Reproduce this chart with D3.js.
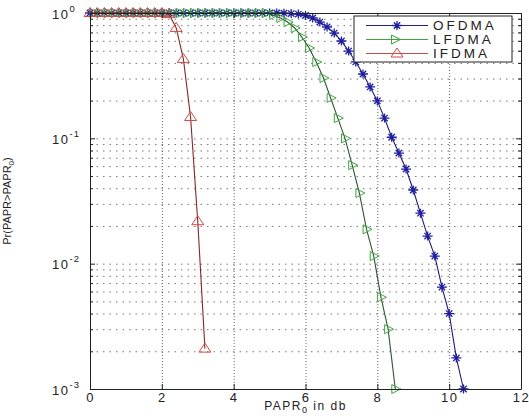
<!DOCTYPE html>
<html>
<head>
<meta charset="utf-8">
<script src="https://cdn.jsdelivr.net/npm/d3@7"></script>
<style>
  body { margin: 0; background: #fff; }
  svg { display: block; font-family: "Liberation Sans", Arial, sans-serif; }
  .tick text { fill: #222; }
</style>
</head>
<body>
<script>
// PAPR CCDF data
const ofdmaX = [0, 0.2, 0.4, 0.6, 0.8, 1.0, 1.2, 1.4, 1.6, 1.8, 2.0, 2.2, 2.4, 2.6, 2.8, 3.0, 3.2, 3.4, 3.6, 3.8,
  4.0, 4.2, 4.4, 4.6, 4.8, 5.0, 5.2, 5.4, 5.6, 5.8, 6.0, 6.2, 6.4, 6.6, 6.8, 7.0, 7.2, 7.4, 7.6, 7.8,
  8.0, 8.2, 8.4, 8.6, 8.8, 9.0, 9.2, 9.4, 9.6, 9.8, 10.0, 10.2, 10.4]
const ofdmaP = [1, 1, 1, 1, 1, 1, 1, 1, 1, 1, 1, 1, 1, 1, 1, 1, 1, 1, 1, 1,
  1, 1, 1, 1, 1, 1, 1, 0.997, 0.99, 0.98, 0.955, 0.912, 0.847, 0.773, 0.692, 0.598, 0.497, 0.407, 0.326, 0.257,
  0.199, 0.145, 0.102, 0.0763, 0.0569, 0.0387, 0.0253, 0.0166, 0.0115, 0.0065, 0.0040, 0.00177, 0.001]

const lfdmaX = [0.1, 0.3, 0.5, 0.7, 0.9, 1.1, 1.3, 1.5, 1.7, 1.9, 2.1, 2.3, 2.5, 2.7, 2.9, 3.1, 3.3, 3.5, 3.7, 3.9,
  4.1, 4.3, 4.5, 4.7, 4.9, 5.1, 5.3, 5.5, 5.7, 5.9, 6.1, 6.3, 6.5, 6.7, 6.9, 7.1, 7.3, 7.5, 7.7, 7.9,
  8.1, 8.3, 8.5]
const lfdmaP = [1, 1, 1, 1, 1, 1, 1, 1, 1, 1, 1, 1, 1, 1, 1, 1, 1, 1, 1, 1,
  1, 1, 1, 1, 1, 0.964, 0.912, 0.847, 0.759, 0.643, 0.526, 0.406, 0.303, 0.21, 0.145, 0.1, 0.0611, 0.0366, 0.0188, 0.0115,
  0.0054, 0.003, 0.001]

const ifdmaX = [0, 0.2, 0.4, 0.6, 0.8, 1.0, 1.2, 1.4, 1.6, 1.8, 2.0, 2.2, 2.4, 2.6, 2.8, 3.0, 3.2]
const ifdmaP = [1, 1, 1, 1, 1, 1, 1, 1, 1, 1, 1, 0.98, 0.76, 0.43, 0.148, 0.0218, 0.0021]

const seriesNames = ['OFDMA', 'LFDMA', 'IFDMA']
const xTicks = [0, 2, 4, 6, 8, 10, 12]
const yDecades = [1e-3, 1e-2, 1e-1, 1]
const yExponents = ['-3', '-2', '-1', '0']

window.addEventListener('load', () => {
  const W = 529, H = 416
  const margin = {top: 13, right: 8, bottom: 27, left: 90}
  const plotW = W - margin.left - margin.right
  const plotH = H - margin.top - margin.bottom

  const svg = d3.select('body').append('svg')
    .attr('width', W)
    .attr('height', H)
  svg.append('rect').attr('width', W).attr('height', H).attr('fill', '#fff')

  const x = d3.scaleLinear().domain([0, 12]).range([margin.left, margin.left + plotW])
  const y = d3.scaleLog().domain([1e-3, 1]).range([margin.top + plotH, margin.top])

  // minor log positions 2..9 x 10^k
  const yMinor = []
  yDecades.slice(0, 3).forEach(d => { for (let m = 2; m <= 9; m++) yMinor.push(d * m) })

  // dotted grid
  const grid = svg.append('g').attr('stroke', '#333').attr('stroke-width', 1)
  grid.append('g')
    .attr('transform', `translate(0,${margin.top + plotH})`)
    .call(d3.axisBottom(x).tickValues([2, 4, 6, 8, 10]).tickSize(-plotH).tickFormat(''))
    .call(g => g.select('.domain').remove())
    .selectAll('line').attr('stroke', '#666').attr('stroke-dasharray', '1,2')
  grid.append('g')
    .attr('transform', `translate(${margin.left},0)`)
    .call(d3.axisLeft(y).tickValues(yMinor.concat([1e-2, 1e-1])).tickSize(-plotW).tickFormat(''))
    .call(g => g.select('.domain').remove())
    .selectAll('line').attr('stroke', '#777').attr('stroke-dasharray', '1.5,5')

  // data lines + markers
  const series = [
    {name: seriesNames[0], xs: ofdmaX, ps: ofdmaP, line: '#1c1c7a', mark: '#1f1fa0', shape: 'star'},
    {name: seriesNames[1], xs: lfdmaX, ps: lfdmaP, line: '#2f552f', mark: '#3fa63f', shape: 'right'},
    {name: seriesNames[2], xs: ifdmaX, ps: ifdmaP, line: '#842828', mark: '#cf4a4a', shape: 'up'}
  ]

  function drawMarker(g, shape, color) {
    if (shape === 'star') {
      g.append('path')
        .attr('d', 'M-5,0H5M0,-4.5V4.5M-3.2,-3.2L3.2,3.2M-3.2,3.2L3.2,-3.2')
        .attr('stroke', color).attr('stroke-width', 1.3).attr('fill', 'none')
    } else if (shape === 'right') {
      g.append('path')
        .attr('d', 'M-3.5,-4.5L-3.5,4.5L5.5,0Z')
        .attr('stroke', color).attr('stroke-width', 1).attr('fill', 'none')
    } else {
      g.append('path')
        .attr('d', 'M0,-5.5L-6,3.5L6,3.5Z')
        .attr('stroke', color).attr('stroke-width', 1).attr('fill', 'none')
    }
  }

  const line = d3.line().x(d => x(d[0])).y(d => y(d[1]))

  series.forEach(s => {
    const pts = s.xs.map((v, i) => [v, s.ps[i]])
    const g = svg.append('g')
    g.append('path')
      .datum(pts)
      .attr('d', line)
      .attr('fill', 'none')
      .attr('stroke', s.line)
      .attr('stroke-width', 1.1)
    g.selectAll('g.mk').data(pts).join('g')
      .attr('class', 'mk')
      .attr('transform', d => `translate(${x(d[0])},${y(d[1])})`)
      .each(function() { drawMarker(d3.select(this), s.shape, s.mark) })
  })

  // axes box with inward ticks
  const axisColor = '#222'
  const bottom = svg.append('g')
    .attr('transform', `translate(0,${margin.top + plotH})`)
    .call(d3.axisBottom(x).tickValues(xTicks).tickSizeInner(-5).tickSizeOuter(0).tickPadding(4))
  bottom.selectAll('.tick text')
    .attr('font-size', 13).attr('letter-spacing', 1.5)
  svg.append('g')
    .attr('transform', `translate(0,${margin.top})`)
    .call(d3.axisTop(x).tickValues(xTicks).tickSizeInner(-5).tickSizeOuter(0).tickFormat(''))

  const left = svg.append('g')
    .attr('transform', `translate(${margin.left},0)`)
    .call(d3.axisLeft(y).tickValues(yDecades).tickSizeInner(-5).tickSizeOuter(0))
  left.selectAll('.tick text').each(function(d, i) {
    const t = d3.select(this)
    t.text(null)
      .attr('x', -38).attr('dy', null).attr('y', 5)
      .attr('text-anchor', 'start').attr('font-size', 13).attr('letter-spacing', 1.5)
    t.append('tspan').text('10')
    t.append('tspan').attr('dy', -7).attr('font-size', 9.5).attr('letter-spacing', 1).text(yExponents[i])
  })
  svg.append('g')
    .attr('transform', `translate(${margin.left},0)`)
    .call(d3.axisLeft(y).tickValues(yMinor).tickSizeInner(-3).tickSizeOuter(0).tickFormat(''))
    .call(g => g.select('.domain').remove())
  svg.append('g')
    .attr('transform', `translate(${margin.left + plotW},0)`)
    .call(d3.axisRight(y).tickValues(yDecades).tickSizeInner(-5).tickSizeOuter(0).tickFormat(''))
  svg.append('g')
    .attr('transform', `translate(${margin.left + plotW},0)`)
    .call(d3.axisRight(y).tickValues(yMinor).tickSizeInner(-3).tickSizeOuter(0).tickFormat(''))
    .call(g => g.select('.domain').remove())
  svg.selectAll('.domain, .tick line').filter(function() { return !this.closest('g[stroke]') })
    .attr('stroke', axisColor)

  // axis labels
  const xl = svg.append('text')
    .attr('x', margin.left + plotW / 2).attr('y', 410)
    .attr('text-anchor', 'middle').attr('font-size', 12).attr('letter-spacing', 1.5).attr('fill', '#222')
  xl.append('tspan').text('PAPR')
  xl.append('tspan').attr('dy', 3).attr('font-size', 9).text('0')
  xl.append('tspan').attr('dy', -3).text(' in db')

  const yl = svg.append('text')
    .attr('transform', `translate(11,${margin.top + plotH / 2}) rotate(-90)`)
    .attr('text-anchor', 'middle').attr('font-size', 11).attr('fill', '#222')
  yl.append('tspan').text('Pr(PAPR>PAPR')
  yl.append('tspan').attr('dy', 3).attr('font-size', 8).text('0')
  yl.append('tspan').attr('dy', -3).text(')')

  // legend
  const lg = svg.append('g').attr('transform', 'translate(354,16)')
  lg.append('rect').attr('width', 158).attr('height', 46)
    .attr('fill', '#fff').attr('stroke', '#222').attr('stroke-width', 1)
  series.forEach((s, i) => {
    const ly = 9.5 + i * 14
    lg.append('line').attr('x1', 12).attr('x2', 74).attr('y1', ly).attr('y2', ly)
      .attr('stroke', s.mark).attr('stroke-width', 1)
    const m = lg.append('g').attr('transform', `translate(${s.shape === 'right' ? 41 : 43},${ly})`)
    drawMarker(m, s.shape, s.mark)
    lg.append('text').attr('x', 79).attr('y', ly + 4.5)
      .attr('font-size', 13.5).attr('letter-spacing', 3).attr('fill', '#222')
      .text(s.name)
  })
})
</script>
</body>
</html>
